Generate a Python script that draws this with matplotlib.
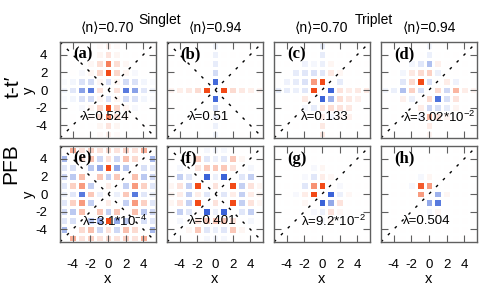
import numpy as np
import matplotlib
matplotlib.use("Agg")
import matplotlib.pyplot as plt
from matplotlib.colors import LinearSegmentedColormap

plt.rcParams['font.family'] = ['Liberation Sans', 'DejaVu Sans']
plt.rcParams['mathtext.fontset'] = 'custom'
plt.rcParams['mathtext.rm'] = 'Liberation Sans'
plt.rcParams['mathtext.it'] = 'Liberation Sans:italic'
plt.rcParams['mathtext.bf'] = 'Liberation Sans:bold'
plt.rcParams['axes.unicode_minus'] = False

# lattice coordinates (x and y run from -5 to 5); grids listed top row (y=5) first
coords = list(range(-5, 6))

grid_a = [
    [0, 0, 0, 0, 0.03, 0.08, 0.03, 0, 0, 0, 0],
    [0, 0, 0, 0, 0.05, 0.15, 0.05, 0, 0, 0, 0],
    [0, 0, 0, 0.04, 0.18, 0.7, 0.18, 0.04, 0, 0, 0],
    [0, 0, -0.04, 0.05, 0.22, 1.0, 0.22, 0.05, -0.04, 0, 0],
    [-0.03, -0.06, -0.18, -0.22, 0.05, -0.18, 0.05, -0.22, -0.18, -0.06, -0.03],
    [-0.06, -0.15, -0.6, -0.85, 0.15, 0, 0.15, -0.85, -0.6, -0.15, -0.06],
    [-0.03, -0.06, -0.18, -0.22, 0.05, -0.18, 0.05, -0.22, -0.18, -0.06, -0.03],
    [0, 0, -0.04, 0.05, 0.22, 1.0, 0.22, 0.05, -0.04, 0, 0],
    [0, 0, 0, 0.04, 0.18, 0.7, 0.18, 0.04, 0, 0, 0],
    [0, 0, 0, 0, 0.05, 0.15, 0.05, 0, 0, 0, 0],
    [0, 0, 0, 0, 0.03, 0.08, 0.03, 0, 0, 0, 0],
]
grid_b = [
    [0, 0, 0, 0, 0, -0.07, 0, 0, 0, 0, 0],
    [0, 0, 0, 0, 0, -0.09, 0, 0, 0, 0, 0],
    [0, 0, 0, 0, 0, -0.12, 0, 0, 0, 0, 0],
    [0, 0, 0, 0, 0, -0.22, 0, 0, 0, 0, 0],
    [0, 0, 0, 0, 0, -0.95, 0, 0, 0, 0, 0],
    [0.07, 0.09, 0.12, 0.2, 1.0, 0, 1.0, 0.2, 0.12, 0.09, 0.07],
    [0, 0, 0, 0, 0, -0.95, 0, 0, 0, 0, 0],
    [0, 0, 0, 0, 0, -0.22, 0, 0, 0, 0, 0],
    [0, 0, 0, 0, 0, -0.12, 0, 0, 0, 0, 0],
    [0, 0, 0, 0, 0, -0.09, 0, 0, 0, 0, 0],
    [0, 0, 0, 0, 0, -0.07, 0, 0, 0, 0, 0],
]
grid_c = [
    [0, 0, 0, 0, 0, -0.12, 0, 0, 0, 0, 0],
    [0, 0, 0, 0, 0, -0.12, 0, 0, 0, 0, 0],
    [0, 0, 0, -0.08, -0.05, -0.1, 0.05, 0, 0, 0, 0],
    [0, 0, -0.12, -0.15, -0.18, -0.15, 0.12, 0.05, 0, 0, 0],
    [0, -0.08, -0.12, -0.18, 0.55, 1.0, 0, -0.12, 0, 0, 0],
    [-0.12, -0.12, -0.1, -0.15, 1.0, 0, -1.0, 0.15, 0.1, 0.12, 0.12],
    [0, 0, 0, 0.12, 0, -1.0, -0.5, 0.18, 0.12, 0.08, 0],
    [0, 0, 0, -0.05, -0.12, 0.15, 0.18, 0.15, 0.12, 0, 0],
    [0, 0, 0, 0, 0, 0.1, -0.05, 0.05, 0.08, 0, 0],
    [0, 0, 0, 0, 0, 0.12, 0, 0, 0, 0, 0],
    [0, 0, 0, 0, 0, 0.12, 0, 0, 0, 0, 0],
]
grid_d = [
    [0, 0, 0, 0, 0, -0.06, 0, 0, 0, 0, 0],
    [0, 0, 0, 0, 0, -0.1, 0, 0, 0, 0, 0],
    [0, 0, 0, -0.06, -0.15, -0.4, 0.08, 0, 0, 0, 0],
    [0, 0, -0.06, 0.12, 0.2, 0.25, -0.1, 0, 0, 0, 0],
    [0, 0, -0.15, 0.2, 1.0, -0.2, 0, 0.1, -0.08, 0, 0],
    [-0.06, -0.1, -0.4, 0.25, -0.2, 0, 0.2, -0.25, 0.4, 0.1, 0.06],
    [0, 0, 0.08, -0.1, 0, 0.2, -0.9, -0.2, 0.15, 0, 0],
    [0, 0, 0, 0, 0.1, -0.25, -0.2, -0.12, 0.06, 0, 0],
    [0, 0, 0, 0, -0.08, 0.4, 0.15, 0.06, 0, 0, 0],
    [0, 0, 0, 0, 0, 0.1, 0, 0, 0, 0, 0],
    [0, 0, 0, 0, 0, 0.06, 0, 0, 0, 0, 0],
]
grid_e = [
    [0, 0.45, 0.15, 0.25, 0.15, 0.2, 0.15, 0.25, 0.15, 0.45, 0],
    [-0.45, 0, 0.2, 0.35, -0.25, 0.15, -0.25, 0.35, 0.2, 0, -0.45],
    [-0.15, -0.2, 0, -0.35, -0.55, 1.0, -0.55, -0.35, 0, -0.2, -0.15],
    [-0.25, -0.35, 0.35, 0, 0.3, -0.3, 0.3, 0, 0.35, -0.35, -0.25],
    [-0.15, 0.25, 0.55, -0.3, 0, 0.1, 0, -0.3, 0.55, 0.25, -0.15],
    [-0.1, -0.15, -0.85, 0.3, -0.1, 0, -0.1, 0.3, -0.85, -0.15, -0.1],
    [-0.15, 0.25, 0.55, -0.3, 0, 0.1, 0, -0.3, 0.55, 0.25, -0.15],
    [-0.25, -0.35, 0.35, 0, 0.3, -0.3, 0.3, 0, 0.35, -0.35, -0.25],
    [-0.15, -0.2, 0, -0.35, -0.55, 1.0, -0.55, -0.35, 0, -0.2, -0.15],
    [-0.45, 0, 0.2, 0.35, -0.25, 0.15, -0.25, 0.35, 0.2, 0, -0.45],
    [0, 0.45, 0.15, 0.25, 0.15, 0.2, 0.15, 0.25, 0.15, 0.45, 0],
]
grid_f = [
    [0, 0, 0, 0, -0.05, -0.05, -0.05, 0, 0, 0, 0],
    [0, 0, 0.05, 0.3, -0.15, -0.1, -0.15, 0.3, 0.05, 0, 0],
    [0, -0.05, 0, 0.15, 0.3, 0.3, 0.3, 0.15, 0, -0.05, 0],
    [0, -0.3, -0.15, 0, -1.0, -0.1, -1.0, 0, -0.15, -0.3, 0],
    [0.05, 0.15, -0.3, 1.0, 0, 0.15, 0, 1.0, -0.3, 0.15, 0.05],
    [0.05, 0.1, -0.3, 0.1, -0.15, 0, -0.15, 0.1, -0.3, 0.1, 0.05],
    [0.05, 0.15, -0.3, 1.0, 0, 0.15, 0, 1.0, -0.3, 0.15, 0.05],
    [0, -0.3, -0.15, 0, -1.0, -0.1, -1.0, 0, -0.15, -0.3, 0],
    [0, -0.05, 0, 0.15, 0.3, 0.3, 0.3, 0.15, 0, -0.05, 0],
    [0, 0, 0.05, 0.3, -0.15, -0.1, -0.15, 0.3, 0.05, 0, 0],
    [0, 0, 0, 0, -0.05, -0.05, -0.05, 0, 0, 0, 0],
]
grid_g = [
    [0, 0, 0, 0, 0, 0, 0, 0, 0, 0, 0],
    [0, 0, 0, 0, 0, 0, 0, 0, 0, 0, 0],
    [0, 0, 0, 0, -0.04, 0.05, 0, 0, 0, 0, 0],
    [0, 0, 0, -0.04, -0.15, 0.1, 0.04, 0, 0, 0, 0],
    [0, 0, 0, -0.15, 0.6, 1.0, 0, -0.04, 0, 0, 0],
    [0, 0, -0.04, 0.1, 1.0, 0, -1.0, -0.1, 0.04, 0, 0],
    [0, 0, 0, 0.04, 0, -1.0, -0.55, 0.15, 0, 0, 0],
    [0, 0, 0, 0, -0.04, -0.1, 0.15, 0.04, 0, 0, 0],
    [0, 0, 0, 0, 0, -0.05, 0.04, 0, 0, 0, 0],
    [0, 0, 0, 0, 0, 0, 0, 0, 0, 0, 0],
    [0, 0, 0, 0, 0, 0, 0, 0, 0, 0, 0],
]
grid_h = [
    [0, 0, 0, 0, 0, 0, 0, 0, 0, 0, 0],
    [0, 0, 0, 0, 0, 0, 0, 0, 0, 0, 0],
    [0, 0, 0, 0, 0, 0, 0, 0, 0, 0, 0],
    [0, 0, 0, 0, -0.05, 0.05, 0, 0, 0, 0, 0],
    [0, 0, 0, -0.05, 0.9, 0.55, 0, 0, 0, 0, 0],
    [0, 0, 0, 0, 0.55, 0, -0.5, 0.05, 0, 0, 0],
    [0, 0, 0, 0, 0, -0.55, -0.85, 0, 0, 0, 0],
    [0, 0, 0, 0, 0, -0.05, 0.05, 0, 0, 0, 0],
    [0, 0, 0, 0, 0, 0, 0, 0, 0, 0, 0],
    [0, 0, 0, 0, 0, 0, 0, 0, 0, 0, 0],
    [0, 0, 0, 0, 0, 0, 0, 0, 0, 0, 0],
]

grids = [grid_a, grid_b, grid_c, grid_d, grid_e, grid_f, grid_g, grid_h]
panel_labels = ['(a)', '(b)', '(c)', '(d)', '(e)', '(f)', '(g)', '(h)']
lambda_labels = ['λ=0.524', 'λ=0.51', 'λ=0.133', 'λ=3.02*10$^{-2}$',
                 'λ=3.1*10$^{-4}$', 'λ=0.401', 'λ=9.2*10$^{-2}$', 'λ=0.504']
is_singlet = [True, True, False, False, True, True, False, False]
col_titles = ['⟨n⟩=0.70', '⟨n⟩=0.94', '⟨n⟩=0.70', '⟨n⟩=0.94']
group_titles = ['Singlet', 'Triplet']
row_titles = ['t-t′', 'PFB']
ticks = [-4, -2, 0, 2, 4]

cmap = LinearSegmentedColormap.from_list('rb', ['#3b63d8', '#ffffff', '#f24a17'])

W, H = 500, 294
fig = plt.figure(figsize=(W / 100, H / 100), dpi=100)

lefts = [60, 167, 274, 381]
tops = [42, 146]
size = 96
lim = 5.45
edges = np.arange(-5.5, 6.0, 1.0)
frame_col = '#606060'

for i, g in enumerate(grids):
    r, c = divmod(i, 4)
    ax = fig.add_axes([lefts[c] / W, 1 - (tops[r] + size) / H, size / W, size / H])
    Z = np.array(g)[::-1]
    ax.pcolormesh(edges, edges, Z, cmap=cmap, vmin=-1, vmax=1,
                  edgecolors='white', linewidth=0.9)
    ax.plot([-lim, lim], [-lim, lim], color='k', lw=1.0, ls=(0, (2, 5)))
    if is_singlet[i]:
        ax.plot([-lim, lim], [lim, -lim], color='k', lw=1.0, ls=(0, (2, 5)))
    ax.set_xlim(-lim, lim)
    ax.set_ylim(-lim, lim)
    ax.set_xticks(ticks)
    ax.set_yticks(ticks)
    ax.tick_params(direction='in', length=5, width=0.8, color=frame_col,
                   top=True, right=True, labelsize=9.5)
    ax.tick_params(axis='x', pad=12)
    ax.tick_params(axis='y', pad=9)
    for s in ax.spines.values():
        s.set_color(frame_col)
        s.set_linewidth(1.0)
    if r == 0:
        ax.set_xticklabels([])
    if c != 0:
        ax.set_yticklabels([])
    ax.text(-4.0, 4.0, panel_labels[i], family='Liberation Serif', weight='bold',
            fontsize=12, ha='left', va='center')
    lx = -2.4 if i in (2, 6) else -3.0
    ax.text(lx, -3.1, lambda_labels[i], fontsize=9.5, ha='left', va='center')
    if r == 1:
        fig.text((lefts[c] + size / 2) / W, 1 - 283 / H, 'x', fontsize=10.5,
                 ha='center', va='baseline')

for c in range(4):
    fig.text((lefts[c] + size / 2) / W, 1 - 28 / H, col_titles[c], fontsize=10,
             ha='center', va='center')
fig.text(160 / W, 1 - 20 / H, group_titles[0], fontsize=10, ha='center', va='center')
fig.text(374 / W, 1 - 20 / H, group_titles[1], fontsize=10, ha='center', va='center')

fig.text(13 / W, 1 - 87 / H, row_titles[0], fontsize=15, rotation=90,
         ha='center', va='center')
fig.text(11 / W, 1 - 164 / H, row_titles[1], fontsize=15, rotation=90,
         ha='center', va='center')
fig.text(29 / W, 1 - 90 / H, 'y', fontsize=10.5, rotation=90, ha='center', va='center')
fig.text(29 / W, 1 - 194 / H, 'y', fontsize=10.5, rotation=90, ha='center', va='center')

fig.savefig('out.png', dpi=100)
